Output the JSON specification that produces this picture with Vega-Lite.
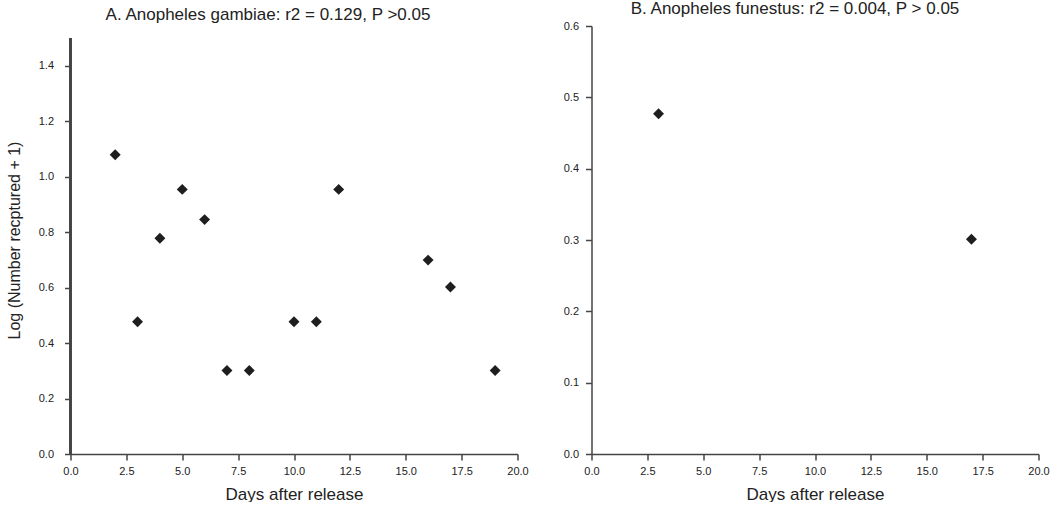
{
  "$schema": "https://vega.github.io/schema/vega-lite/v6.json",
  "background": "white",
  "padding": {"left": 5.5, "top": 0, "right": 0, "bottom": 0},
  "config": {
    "font": "Liberation Sans",
    "view": {"stroke": null},
    "axis": {
      "grid": false,
      "domainColor": "#444",
      "domainWidth": 1.5,
      "tickColor": "#444",
      "tickWidth": 1.5,
      "tickSize": 6,
      "labelFont": "Liberation Sans",
      "labelFontSize": 11,
      "labelColor": "#222",
      "labelFlush": false,
      "titleFont": "Liberation Sans",
      "titleFontSize": 17,
      "titleFontWeight": "normal",
      "titleColor": "#222"
    },
    "title": {"font": "Liberation Sans", "fontSize": 17, "fontWeight": "normal", "color": "#222"},
    "concat": {"spacing": 34}
  },
  "datasets": {
    "gambiae": [
      {"day": 2, "logn": 1.079},
      {"day": 3, "logn": 0.477},
      {"day": 4, "logn": 0.778},
      {"day": 5, "logn": 0.954},
      {"day": 6, "logn": 0.845},
      {"day": 7, "logn": 0.301},
      {"day": 8, "logn": 0.301},
      {"day": 10, "logn": 0.477},
      {"day": 11, "logn": 0.477},
      {"day": 12, "logn": 0.954},
      {"day": 16, "logn": 0.699},
      {"day": 17, "logn": 0.602},
      {"day": 19, "logn": 0.301}
    ],
    "funestus": [
      {"day": 3, "logn": 0.477},
      {"day": 17, "logn": 0.301}
    ]
  },
  "hconcat": [
    {
      "title": {"text": "A.  Anopheles gambiae: r2 = 0.129, P >0.05", "offset": 2, "dx": -26},
      "width": 447,
      "height": 428,
      "data": {"name": "gambiae"},
      "layer": [
        {
          "mark": {"type": "rule", "color": "#444", "strokeWidth": 1.5},
          "encoding": {
            "x": {"datum": 0, "type": "quantitative"},
            "y": {"datum": 0, "type": "quantitative"},
            "y2": {"datum": 1.5}
          }
        },
        {
          "mark": {"type": "point", "shape": "diamond", "filled": true, "color": "#1e1e1e", "size": 120, "opacity": 1},
          "encoding": {
            "x": {"field": "day", "type": "quantitative", "scale": {"domain": [0, 20], "nice": false, "zero": true},
              "axis": {"values": [0, 2.5, 5, 7.5, 10, 12.5, 15, 17.5, 20], "format": ".1f", "title": "Days after release", "labelPadding": 5, "titlePadding": 10}},
            "y": {"field": "logn", "type": "quantitative", "scale": {"domain": [0, 1.543], "nice": false},
              "axis": {"values": [0, 0.2, 0.4, 0.6, 0.8, 1.0, 1.2, 1.4], "format": ".1f", "domain": false, "labelPadding": 11, "title": "Log (Number recptured + 1)", "titleFontSize": 16, "titlePadding": 16}}
          }
        }
      ]
    },
    {
      "title": {"text": "B. Anopheles funestus: r2 = 0.004, P > 0.05", "offset": 2, "dx": -20},
      "width": 447,
      "height": 428,
      "data": {"name": "funestus"},
      "mark": {"type": "point", "shape": "diamond", "filled": true, "color": "#1e1e1e", "size": 120, "opacity": 1},
      "encoding": {
        "x": {"field": "day", "type": "quantitative", "scale": {"domain": [0, 20], "nice": false},
          "axis": {"values": [0, 2.5, 5, 7.5, 10, 12.5, 15, 17.5, 20], "format": ".1f", "title": "Days after release", "labelPadding": 5, "titlePadding": 10}},
        "y": {"field": "logn", "type": "quantitative", "scale": {"domain": [0, 0.6], "nice": false},
          "axis": {"values": [0, 0.1, 0.2, 0.3, 0.4, 0.5, 0.6], "format": ".1f", "labelPadding": 7, "title": null}}
      }
    }
  ]
}
